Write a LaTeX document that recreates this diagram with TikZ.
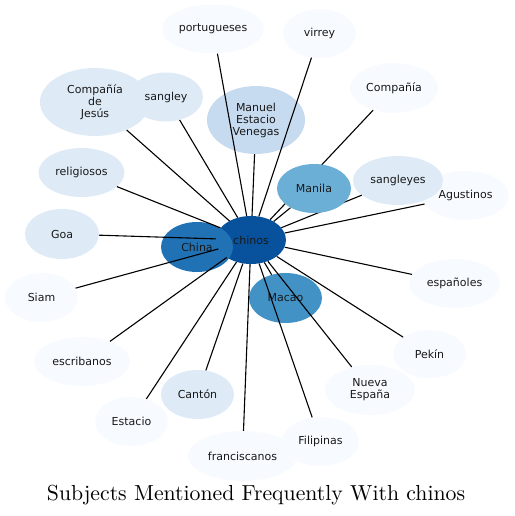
\documentclass[tikz,border=0pt]{standalone}
\usepackage{fontspec}
\newfontfamily\nodefont{DejaVu Sans}
\newfontfamily\titlefont{lmroman10-regular}[Extension=.otf]
\usetikzlibrary{shapes.geometric}
\pgfdeclarelayer{edgelayer}
\pgfdeclarelayer{toplayer}
\pgfsetlayers{main,edgelayer,toplayer}
\definecolor{bA}{HTML}{08519C}
\definecolor{bB}{HTML}{2171B5}
\definecolor{bC}{HTML}{4292C6}
\definecolor{bD}{HTML}{6BAED6}
\definecolor{bE}{HTML}{C6DBEF}
\definecolor{bF}{HTML}{DEEBF7}
\definecolor{bG}{HTML}{F7FBFF}
\tikzset{
  bub/.style args={#1/#2/#3}{ellipse, inner sep=0pt, minimum width=#1pt, minimum height=#2pt,
    fill=#3, draw=none, align=center, text=black!90,
    font=\nodefont\fontsize{11}{12}\selectfont},
  edge/.style={draw=black, line width=1.1pt},
}
\begin{document}
\begin{tikzpicture}[x=1pt,y=-1pt]
\useasboundingbox (0,0) rectangle (514,516);
% hub
\node[bub=70/48/bA] (chinos) at (251,240) {chinos};
\node[bub=72/50/bB] (China) at (197,247) {China};
\node[bub=73/50/bC] (Macao) at (285.5,298) {Macao};
% outer nodes
\node[bub=102/49/bG] (portugueses) at (213,29) {portugueses};
\node[bub=73/49/bG] (virrey) at (319.5,33.5) {virrey};
\node[bub=110/68/bF] (CdJ) at (95,102) {Compañía\\de\\Jesús};
\node[bub=74/49/bF] (sangley) at (166,97) {sangley};
\node[bub=98/68/bE] (Manuel) at (256,120) {Manuel\\Estacio\\Venegas};
\node[bub=88/50/bG] (Compania) at (394,88) {Compañía};
\node[bub=87/49/bG] (Agustinos) at (465.5,195.5) {Agustinos};
\node[bub=90/49/bF] (sangleyes) at (398,180.5) {sangleyes};
\node[bub=86/49/bF] (religiosos) at (81.5,172.5) {religiosos};
\node[bub=74/50/bF] (Goa) at (62,234) {Goa};
\node[bub=73/49/bG] (Siam) at (41.5,297.5) {Siam};
\node[bub=96/49/bG] (escribanos) at (82,361.5) {escribanos};
\node[bub=73/49/bG] (Estacio) at (131.5,421.5) {Estacio};
\node[bub=73/49/bF] (Canton) at (197.5,394.5) {Cantón};
\node[bub=91/49/bG] (espanoles) at (454.5,283.5) {españoles};
\node[bub=73/48/bG] (Pekin) at (429.5,354) {Pekín};
\node[bub=90/50/bG] (NuevaEspana) at (370,390) {Nueva\\España};
\node[bub=109/50/bG] (franciscanos) at (242.5,456) {franciscanos};
\node[bub=77/49/bG] (Filipinas) at (320.5,441.5) {Filipinas};
\begin{pgfonlayer}{toplayer}
\node[bub=74/49/bD] (Manila) at (314,188.5) {Manila};
\end{pgfonlayer}
% connectors
\begin{pgfonlayer}{edgelayer}
\foreach \n in {portugueses,virrey,CdJ,sangley,Manuel,Compania,sangleyes,Agustinos,
  religiosos,Goa,Siam,escribanos,Estacio,Canton,franciscanos,Filipinas,NuevaEspana,
  Pekin,espanoles,Macao,Manila}
  \draw[edge] (chinos) -- (\n);
\end{pgfonlayer}
% title
\node[anchor=base, inner sep=0pt, font=\titlefont\fontsize{21.75}{25}\selectfont] (title) at (256,500.7)
  {Subjects Mentioned Frequently With chinos};
\end{tikzpicture}
\end{document}
